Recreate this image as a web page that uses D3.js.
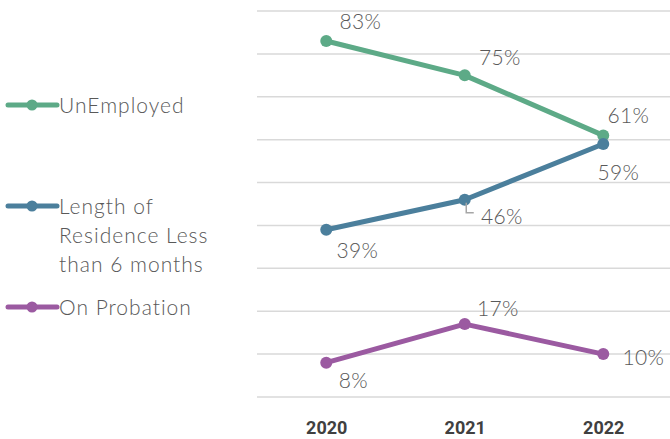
<!DOCTYPE html>
<html>
<head>
<meta charset="utf-8">
<script src="https://cdn.jsdelivr.net/npm/d3@7"></script>
<style>
  html, body { margin: 0; padding: 0; background: #ffffff; }
  svg { display: block; }
</style>
</head>
<body>
<svg id="chart" width="670" height="439"></svg>
<script>
// ---- data ----
const years = ["2020", "2021", "2022"];
const unemployed = [83, 75, 61];
const residence = [39, 46, 59];
const probation = [8, 17, 10];
const seriesNames = [["UnEmployed"], ["Length of", "Residence Less", "than 6 months"], ["On Probation"]];
const yTicks = [0, 10, 20, 30, 40, 50, 60, 70, 80, 90];

// ---- layout / style config ----
const colors = ["#5daa87", "#4b7f9c", "#9b5aa1"];
const labelOffsets = [
  [[34, -12], [35, -10], [25, -12]],
  [[31, 28], [37, 24], [15, 36]],
  [[27, 25], [33, -8], [40, 11]]
];
const legendY = [105, 206, 307];

const svg = d3.select("#chart");
const x = d3.scalePoint().domain(years).range([257, 672.5]).padding(0.5);
const y = d3.scaleLinear().domain([0, 90]).range([397, 11]);

// gridlines
svg.append("g").selectAll("line").data(yTicks).join("line")
  .attr("x1", 257).attr("x2", 670)
  .attr("y1", d => y(d)).attr("y2", d => y(d))
  .attr("stroke", "#d9d9d9").attr("stroke-width", 1.5);

// x axis labels
const xAxis = d3.axisBottom(x).tickSize(0).tickPadding(0);
const gx = svg.append("g").attr("transform", "translate(0,421)").call(xAxis);
gx.select(".domain").remove();
gx.selectAll("text")
  .attr("dy", "0.71em")
  .attr("font-family", "Roboto, 'DejaVu Sans', sans-serif")
  .attr("font-weight", "bold")
  .attr("font-size", 18)
  .attr("fill", "#404040");

const allSeries = [unemployed, residence, probation];
const line = d3.line().x((d, i) => x(years[i])).y(d => y(d));

const labelFont = "Lato, 'Open Sans', sans-serif";

allSeries.forEach((vals, si) => {
  const g = svg.append("g");
  g.append("path").datum(vals)
    .attr("d", line)
    .attr("fill", "none")
    .attr("stroke", colors[si])
    .attr("stroke-width", 5)
    .attr("stroke-linejoin", "round");
  g.selectAll("circle").data(vals).join("circle")
    .attr("cx", (d, i) => x(years[i]))
    .attr("cy", d => y(d))
    .attr("r", 6)
    .attr("fill", colors[si]);
});

// leader line for 46%
{
  const px = x(years[1]), py = y(residence[1]);
  svg.append("path")
    .attr("d", `M${px + 1.5},${py + 3}V${py + 13}H${px + 9}`)
    .attr("fill", "none")
    .attr("stroke", "#a6a6a6")
    .attr("stroke-width", 1.5);
}

// data labels
allSeries.forEach((vals, si) => {
  svg.append("g").selectAll("text").data(vals).join("text")
    .attr("x", (d, i) => x(years[i]) + labelOffsets[si][i][0])
    .attr("y", (d, i) => y(d) + labelOffsets[si][i][1])
    .attr("text-anchor", "middle")
    .attr("font-family", labelFont)
    .attr("font-weight", 300)
    .attr("font-size", 21)
    .attr("letter-spacing", 0.3)
    .attr("fill", "#595959")
    .text(d => d + "%");
});

// legend
seriesNames.forEach((lines, si) => {
  const ly = legendY[si];
  const g = svg.append("g");
  g.append("line").attr("x1", 8).attr("x2", 57).attr("y1", ly).attr("y2", ly)
    .attr("stroke", colors[si]).attr("stroke-width", 5).attr("stroke-linecap", "round");
  g.append("circle").attr("cx", 32).attr("cy", ly).attr("r", 5.5).attr("fill", colors[si]);
  lines.forEach((t, li) => {
    g.append("text")
      .attr("x", 59)
      .attr("y", ly + 7.5 + li * 29)
      .attr("font-family", labelFont)
      .attr("font-weight", 300)
      .attr("font-size", 21)
      .attr("letter-spacing", 1)
      .attr("fill", "#595959")
      .text(t);
  });
});
</script>
</body>
</html>
